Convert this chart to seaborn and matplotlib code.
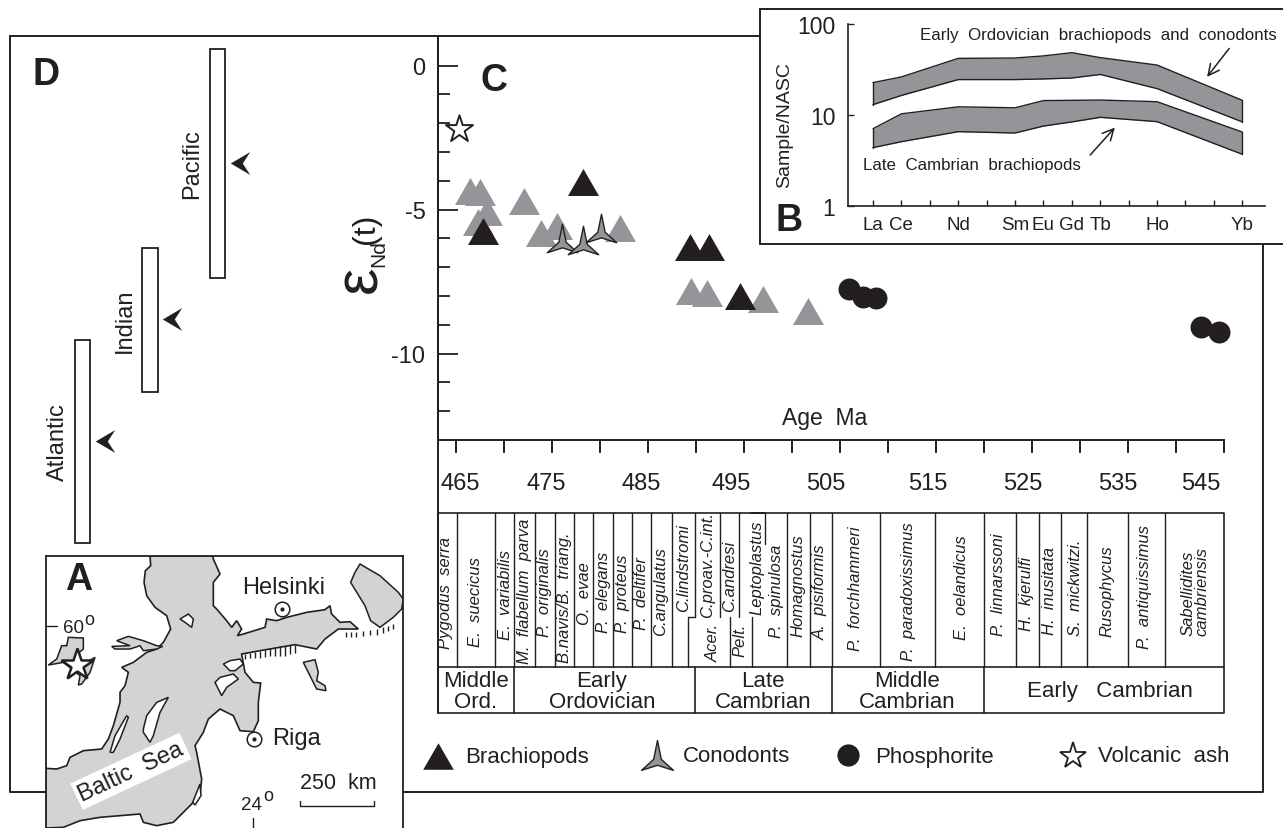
import matplotlib
matplotlib.use("Agg")
import matplotlib.pyplot as plt
from matplotlib.path import Path
from matplotlib.patches import Rectangle, Polygon
import seaborn as sns

W, H = 1283, 829
INK = "#231f20"
GREY = "#939598"
MAPGREY = "#d1d3d4"

# ---- Panel C: epsilon-Nd against age
gray_age = [466.49, 467.5, 468.23, 467.32, 472.08, 473.82, 475.49, 482.08, 489.48, 491.11, 496.98, 501.67]
gray_eps = [-4.34, -4.375, -5.07, -5.44, -4.71, -5.82, -5.58, -5.65, -7.81, -7.89, -8.10, -8.52]
brach_age = [467.78, 478.2, 489.38, 491.39, 494.58]
brach_eps = [-5.75, -4.05, -6.31, -6.31, -8.0]
cono_age = [476.01, 478.26, 480.07]
cono_eps = [-6.02, -6.10, -5.69]
phos_age = [505.97, 507.36, 508.75, 542.6, 544.51]
phos_eps = [-7.75, -8.02, -8.06, -9.07, -9.24]
ash_age = [465.31]
ash_eps = [-2.2]
age_labels = ["465", "475", "485", "495", "505", "515", "525", "535", "545"]
age_label_px = [460.7, 546.7, 641, 731, 826, 927.7, 1022.7, 1118, 1201]

# ---- Panel D: ocean ranges
oceans = ["Atlantic", "Indian", "Pacific"]
ocean_top = [-9.52, -6.33, 0.58]
ocean_bot = [-16.57, -11.33, -7.36]
ocean_mean = [-13.03, -8.81, -3.38]

# ---- Panel B: REE patterns
ree_names = ["La", "Ce", "Nd", "Sm", "Eu", "Gd", "Tb", "Ho", "Yb"]
ree_pos = [0, 1, 3, 5, 6, 7, 8, 10, 13]
ord_hi = [22.7, 26.2, 41.9, 42.3, 44.6, 48.4, 42.7, 35.4, 14.5]
ord_lo = [13.0, 16.4, 24.5, 24.5, 24.9, 25.5, 27.9, 19.5, 8.4]
cam_hi = [7.07, 10.3, 12.3, 12.0, 14.4, 14.5, 14.6, 14.0, 6.5]
cam_lo = [4.38, 5.09, 6.56, 6.34, 7.56, 8.39, 9.43, 8.45, 3.70]

# ---- Stratigraphic table
zone_names = ["Pygodus  serra", "E.  suecicus", "E.  variabilis", "M.  flabellum  parva", "P.  originalis",
              "B.navis/B.  triang.", "O.  evae", "P.  elegans", "P.  proteus", "P.  deltifer", "C.angulatus",
              "C.lindstromi", "C.proav.-C.int.", "Acer.", "C.andresi", "Pelt.", "Leptoplastus", "P.  spinulosa",
              "Homagnostus", "A.  pisiformis", "P.  forchhammeri", "P.  paradoxissimus", "E.  oelandicus",
              "P.  linnarssoni", "H.  kjerulfi", "H.  inusitata", "S.  mickwitzi.", "Rusophycus",
              "P.  antiquissimus", "Sabellidites\ncambriensis"]
zone_x = [445.7, 475, 505, 524.3, 544.3, 565, 584.3, 603.3, 622.7, 641.7, 660.7, 684, 708, 713.3, 730, 740,
          756.7, 776.7, 798.3, 820.7, 856, 908.3, 961.7, 998.3, 1026.7, 1049.3, 1075, 1106.7, 1145, 1195]
zone_bottom = [649, 646.7, 640, 664, 636.7, 662.7, 625, 633, 633, 630, 635.7, 611.7, 618, 662, 611.7, 656.7,
               615, 638, 636.7, 640, 650.7, 660.7, 640, 636, 630.7, 635, 636, 636.7, 649, 636]
zone_full = [456.7, 495, 514.3, 535, 555, 574, 593, 613, 632, 651, 672, 787, 810, 832.3, 880, 935, 983.7,
             1016, 1039, 1061, 1087, 1128, 1165]
zone_upper = [694.5, 720, 739]
zone_lower = [688, 729.5, 751.5]
period_edges = [514.3, 695, 832.3, 983.7]
period_names = ["Middle\nOrd.", "Early\nOrdovician", "Late\nCambrian", "Middle\nCambrian", "Early   Cambrian"]
period_x = [476, 602, 763, 907, 1110]

# ---- Panel A: map outline, traced
sea_x = [450, 452, 436, 432, 440, 465, 500, 512, 490, 470, 440, 400, 365, 385, 375, 360, 360, 340, 325, 305, 250,
         210, 200, 170, 137, 137, 190, 240, 300, 420, 430, 470, 520, 545, 570, 600, 605, 590, 585, 610, 625, 660,
         700, 720, 760, 775, 775, 782, 760, 735, 725, 780, 885, 950, 975, 1015, 1075, 1050, 1020, 995, 990, 975,
         920, 860, 830, 800, 795, 730, 712, 725, 710, 695, 680, 650, 640, 640, 660, 640, 638]
sea_y = [50, 80, 95, 130, 170, 205, 230, 270, 310, 330, 340, 370, 385, 400, 440, 460, 490, 560, 600, 630, 635,
         655, 680, 690, 688, 867, 865, 845, 835, 825, 850, 860, 850, 825, 800, 770, 720, 640, 620, 580, 540, 510,
         530, 575, 578, 545, 490, 432, 430, 400, 345, 335, 317, 330, 300, 270, 270, 248, 250, 225, 200, 212,
         220, 235, 245, 240, 265, 285, 290, 270, 245, 265, 245, 210, 200, 130, 105, 60, 50]
isl1_x = [540, 565, 580, 575, 555]
isl1_y = [240, 225, 240, 265, 250]
isl2_x = [430, 440, 470, 505, 480, 460, 450, 430]
isl2_y = [570, 530, 490, 475, 520, 590, 610, 580]
isl3_x = [330, 345, 380, 385, 360, 340]
isl3_y = [640, 590, 530, 535, 600, 640]
isl4_x = [645, 660, 700, 715, 680, 665, 655]
isl4_y = [430, 415, 405, 420, 445, 470, 450]
isl5_x = [670, 690, 720, 730, 705, 690]
isl5_y = [375, 365, 360, 375, 395, 395]
isl6_x = [578, 600, 603, 585]
isl6_y = [790, 735, 770, 798]
lake1_x = [1080, 1140, 1195, 1210, 1205, 1180, 1140, 1112, 1095, 1052, 1065]
lake1_y = [75, 110, 160, 180, 210, 235, 265, 245, 200, 130, 100]
lake2_x = [910, 945, 955, 950, 975, 978, 950, 930]
lake2_y = [370, 362, 400, 425, 440, 455, 450, 410]
lake3_x = [145, 170, 185, 200, 205, 250, 250, 225, 250, 285, 270, 245, 235, 240, 190]
lake3_y = [378, 360, 320, 320, 295, 297, 330, 350, 375, 355, 400, 435, 438, 410, 370]
lake4_x = [335, 390, 350, 385, 430, 470, 488, 470, 430, 420, 390, 345]
lake4_y = [322, 320, 305, 292, 305, 320, 322, 330, 335, 320, 330, 330]
hatch1_x = [735, 750, 765, 780, 795, 810, 825, 840, 855, 870, 885]
hatch1_top = [345, 343, 340, 335, 332, 328, 325, 322, 320, 318, 317]
hatch1_bot = [360, 358, 358, 356, 355, 352, 352, 350, 350, 346, 342]
hatch2_x = [1037, 1052, 1067, 1090, 1110, 1130, 1150, 1165, 1180]
hatch2_top = [278, 278, 278, 275, 272, 270, 264, 260, 255]
hatch2_bot = [295, 295, 293, 291, 288, 287, 282, 276, 270]

sns.set_style("white")
plt.rcParams["font.family"] = ["Liberation Sans", "DejaVu Sans"]
plt.rcParams["axes.unicode_minus"] = False
plt.rcParams["text.color"] = INK
plt.rcParams["axes.edgecolor"] = INK
plt.rcParams["xtick.color"] = INK
plt.rcParams["ytick.color"] = INK
plt.rcParams["axes.labelcolor"] = INK

fig = plt.figure(figsize=(W / 100, H / 100), dpi=100, facecolor="white")


def px_axes(l, t, r, b, z):
    ax = fig.add_axes([l / W, 1 - b / H, (r - l) / W, (b - t) / H], zorder=z)
    ax.patch.set_alpha(0)
    return ax


TRI = Path([(-1, -0.87), (1, -0.87), (0, 0.87), (-1, -0.87)], closed=True)
CONO = Path([(0, 1), (0.24, -0.18), (1, -0.87), (0, -0.55), (-1, -0.87), (-0.24, -0.18), (0, 1)], closed=True)
ARROW = Path([(-0.85, 0), (0.85, 1), (0.2, 0), (0.85, -1), (-0.85, 0)], closed=True)

# ---- full-figure layer in pixel units
fr = px_axes(0, 0, W, H, 1)
fr.set_xlim(0, W)
fr.set_ylim(H, 0)
fr.axis("off")
fr.plot([10, 1263, 1263, 10, 10], [37, 37, 793, 793, 37], color=INK, lw=1.4, zorder=1)
fr.plot([438, 438], [37, 714], color=INK, lw=1.4, zorder=1)
fr.add_patch(Rectangle((759.5, 9.5), 600, 235.5, fc="white", ec=INK, lw=1.4, zorder=2))
fr.text(46, 75, "D", fontsize=27, fontweight="bold", ha="center", va="center")
fr.text(494, 81, "C", fontsize=27, fontweight="bold", ha="center", va="center")
fr.text(789, 221, "B", fontsize=27, fontweight="bold", ha="center", va="center", zorder=5)
fr.text(361, 279, "\u03b5", fontsize=44, rotation=90, ha="center", va="center")
fr.text(379, 254, "Nd", fontsize=15, rotation=90, ha="center", va="center")
fr.text(366, 229, "(t)", fontsize=23, rotation=90, ha="center", va="center")
fr.text(825, 419, "Age  Ma", fontsize=16.5, ha="center", va="center")
for s, x in zip(age_labels, age_label_px):
    fr.text(x, 483.5, s, fontsize=17, ha="center", va="center")

# legend
fr.plot([438], [757], marker=TRI, ms=22, color=INK, mew=0, ls="none")
fr.plot([657], [757], marker=CONO, ms=23, mfc=GREY, mec=INK, mew=1, ls="none")
fr.plot([848], [756], marker="o", ms=16, color=INK, mew=0, ls="none")
fr.plot([1073], [757], marker="*", ms=20, mfc="white", mec=INK, mew=1.3, ls="none")
for x, s in zip([465, 683, 875, 1098], ["Brachiopods", "Conodonts", "Phosphorite", "Volcanic  ash"]):
    fr.text(x, 757, s, fontsize=16, ha="left", va="center")

# ---- table
for x in zone_full:
    fr.plot([x, x], [514.3, 667.7], color=INK, lw=1, zorder=3)
for x in zone_upper:
    fr.plot([x, x], [514.3, 618], color=INK, lw=1, zorder=3)
for x in zone_lower:
    fr.plot([x, x], [618, 667.7], color=INK, lw=1, zorder=3)
fr.plot([688, 694.5], [618, 618], color=INK, lw=1, zorder=3)
fr.plot([764.5, 764.5], [514.3, 545], color=INK, lw=1, zorder=3)
fr.plot([751, 764.5], [514.3, 514.3], color=INK, lw=1.4, zorder=3)
fr.plot([438, 1224, 1224, 438, 438], [514.3, 514.3, 713.5, 713.5, 514.3], color=INK, lw=1.2, zorder=3)
fr.plot([438, 1224], [667.7, 667.7], color=INK, lw=1.2, zorder=3)
for x in period_edges:
    fr.plot([x, x], [667.7, 713.5], color=INK, lw=1.2, zorder=3)
for s, x, b in zip(zone_names, zone_x, zone_bottom):
    fr.text(x, b, s, fontsize=12, style="italic", rotation=90, ha="center", va="bottom",
            linespacing=0.85, multialignment="left")
for s, x in zip(period_names, period_x):
    fr.text(x, 692, s, fontsize=16, ha="center", va="center", linespacing=0.98)

# ---- Panel C
ax_c = px_axes(438, 37, 1224, 440.7, 3)
ax_c.set_xlim(463.125, 545)
ax_c.set_ylim(-12.99, 1.03)
sns.scatterplot(x=gray_age, y=gray_eps, marker=TRI, color=GREY, s=498, linewidth=0, ax=ax_c, clip_on=False, zorder=3)
sns.scatterplot(x=brach_age, y=brach_eps, marker=TRI, color=INK, s=498, linewidth=0, ax=ax_c, clip_on=False, zorder=4)
sns.scatterplot(x=cono_age, y=cono_eps, marker=CONO, color=GREY, edgecolor=INK, s=480, linewidth=1, ax=ax_c,
                clip_on=False, zorder=5)
sns.scatterplot(x=phos_age, y=phos_eps, marker="o", color=INK, s=250, linewidth=0, ax=ax_c, clip_on=False, zorder=4)
sns.scatterplot(x=ash_age, y=ash_eps, marker="*", color="white", edgecolor=INK, s=420, linewidth=1.4, ax=ax_c,
                clip_on=False, zorder=4)
sns.despine(ax=ax_c, top=True, right=True)
ax_c.set_xticks(list(range(465, 550, 5)))
ax_c.set_xticklabels([])
ax_c.tick_params(axis="x", direction="out", length=9.4, width=1.4, bottom=True)
ax_c.set_yticks([0, -5, -10])
ax_c.set_yticklabels(["0", "-5", "-10"], fontsize=17)
ax_c.set_yticks(list(range(-12, 1)), minor=True)
ax_c.tick_params(axis="y", which="major", direction="in", length=14.4, width=1.3, left=True, pad=9)
ax_c.tick_params(axis="y", which="minor", direction="in", length=8.6, width=1.3, left=True)
for sp in ax_c.spines.values():
    sp.set_linewidth(1.4)

# ---- Panel D
ax_d = px_axes(10, 37, 438, 440.7 + 28.8 * 4, 3)
ax_d.set_xlim(-1.074, 5.267)
ax_d.set_ylim(-12.99 - 4, 1.03)
ax_d.axis("off")
idx = list(range(len(oceans)))
ax_d.bar(idx, [t - b for t, b in zip(ocean_top, ocean_bot)], bottom=ocean_bot, width=0.23,
         fc="white", ec=INK, lw=1.3)
sns.scatterplot(x=[i + 0.33 for i in idx], y=ocean_mean, marker=ARROW, color=INK, s=270, linewidth=0, ax=ax_d)
for i, name, m in zip(idx, oceans, ocean_mean):
    ax_d.text(i - 0.37, m, name, fontsize=17, rotation=90, ha="center", va="center")

# ---- Panel B
ax_b = px_axes(848, 25, 1265, 207, 4)
ax_b.set_yscale("log")
ax_b.set_xlim(-0.88, 13.8)
ax_b.set_ylim(1, 100)
for hi, lo in [(ord_hi, ord_lo), (cam_hi, cam_lo)]:
    ax_b.fill_between(ree_pos, lo, hi, color=GREY, lw=0)
    sns.lineplot(x=ree_pos, y=hi, color=INK, lw=1, ax=ax_b, errorbar=None)
    sns.lineplot(x=ree_pos, y=lo, color=INK, lw=1, ax=ax_b, errorbar=None)
    ax_b.plot([ree_pos[0], ree_pos[0]], [lo[0], hi[0]], color=INK, lw=1)
    ax_b.plot([ree_pos[-1], ree_pos[-1]], [lo[-1], hi[-1]], color=INK, lw=1)
sns.despine(ax=ax_b, top=True, right=True)
for sp in ax_b.spines.values():
    sp.set_linewidth(1.2)
ax_b.set_xticks(list(range(14)))
ax_b.set_xticklabels([])
ax_b.tick_params(axis="x", direction="in", length=4.5, width=1, bottom=True)
ax_b.set_yticks([1, 10, 100])
ax_b.set_yticklabels(["1", "10", "100"], fontsize=16.5)
ax_b.minorticks_off()
ax_b.tick_params(axis="y", direction="in", length=4.5, width=1, left=True, pad=9)
ax_b.set_ylabel("Sample/NASC", fontsize=14)
ax_b.yaxis.set_label_coords(-0.132, 0.45)
for p, s in zip(ree_pos, ree_names):
    ax_b.annotate(s, (p, 1), xytext=(0, -13), textcoords="offset points", ha="center", va="center", fontsize=13.5,
                  annotation_clip=False)
ax_b.text(1.029, 0.985, "Early  Ordovician  brachiopods  and  conodonts", transform=ax_b.transAxes, fontsize=12.2,
          ha="right", va="top", clip_on=False)
ax_b.text(0.037, 0.23, "Late  Cambrian  brachiopods", transform=ax_b.transAxes, fontsize=12.2, ha="left",
          va="center", clip_on=False)
ax_b.annotate("", xy=(11.7, 24.8), xytext=(12.6, 57), arrowprops=dict(arrowstyle="->,head_length=0.8,head_width=0.4",
                                                                      color=INK, lw=1.1))
ax_b.annotate("", xy=(8.58, 7.66), xytext=(7.58, 3.45), arrowprops=dict(arrowstyle="->,head_length=0.8,head_width=0.4",
                                                                        color=INK, lw=1.1))

# ---- Panel A
ax_a = px_axes(45.7, 556.7, 403.3, 829, 6)
ax_a.patch.set_alpha(1)
ax_a.patch.set_facecolor("white")
ax_a.set_xlim(137, 1210)
ax_a.set_ylim(867, 50)
ax_a.set_xticks([])
ax_a.set_yticks([])
for sp in ax_a.spines.values():
    sp.set_linewidth(1.3)
    sp.set_color(INK)
ax_a.spines["bottom"].set_visible(False)
ax_a.add_patch(Polygon(list(zip(sea_x, sea_y)), closed=True, fc=MAPGREY, ec=INK, lw=1.2))
for xs, ys in [(isl1_x, isl1_y), (isl2_x, isl2_y), (isl3_x, isl3_y), (isl4_x, isl4_y), (isl5_x, isl5_y), (isl6_x, isl6_y)]:
    ax_a.add_patch(Polygon(list(zip(xs, ys)), closed=True, fc="white", ec=INK, lw=1.1))
for xs, ys in [(lake1_x, lake1_y), (lake2_x, lake2_y), (lake3_x, lake3_y), (lake4_x, lake4_y)]:
    ax_a.add_patch(Polygon(list(zip(xs, ys)), closed=True, fc=MAPGREY, ec=INK, lw=1.1))
ax_a.vlines(hatch1_x, hatch1_top, hatch1_bot, color=INK, lw=1)
ax_a.vlines(hatch2_x, hatch2_top, hatch2_bot, color=INK, lw=1)
ax_a.plot([230], [378], marker="*", ms=24, mfc="white", mec=INK, mew=1.8, ls="none")
for cx, cy in [(846, 210), (763, 600)]:
    ax_a.plot([cx], [cy], marker="o", ms=10.5, mfc="white", mec=INK, mew=1.1, ls="none")
    ax_a.plot([cx], [cy], marker="o", ms=3, color=INK, mew=0, ls="none")
ax_a.text(235, 120, "A", fontsize=27, fontweight="bold", ha="center", va="center")
ax_a.text(850, 143, "Helsinki", fontsize=17, ha="center", va="center")
ax_a.text(890, 598, "Riga", fontsize=17, ha="center", va="center")
ax_a.text(1015, 731, "250  km", fontsize=15.5, ha="center", va="center")
ax_a.plot([900, 900, 1122, 1122], [787, 800, 800, 787], color=INK, lw=1)
ax_a.plot([137, 172], [260, 260], color=INK, lw=1)
ax_a.text(220, 264, "60", fontsize=13.5, ha="center", va="center")
ax_a.text(268, 240, "o", fontsize=13, ha="center", va="center")
ax_a.text(755, 797, "24", fontsize=13.5, ha="center", va="center")
ax_a.text(806, 768, "o", fontsize=13, ha="center", va="center")
ax_a.plot([760, 760], [838, 867], color=INK, lw=1)
ax_a.text(393, 697, "Baltic  Sea", fontsize=17, rotation=25, ha="center", va="center", rotation_mode="anchor",
          bbox=dict(fc="white", ec="none", pad=2.5))

fig.savefig("out.png", dpi=100, facecolor="white")
